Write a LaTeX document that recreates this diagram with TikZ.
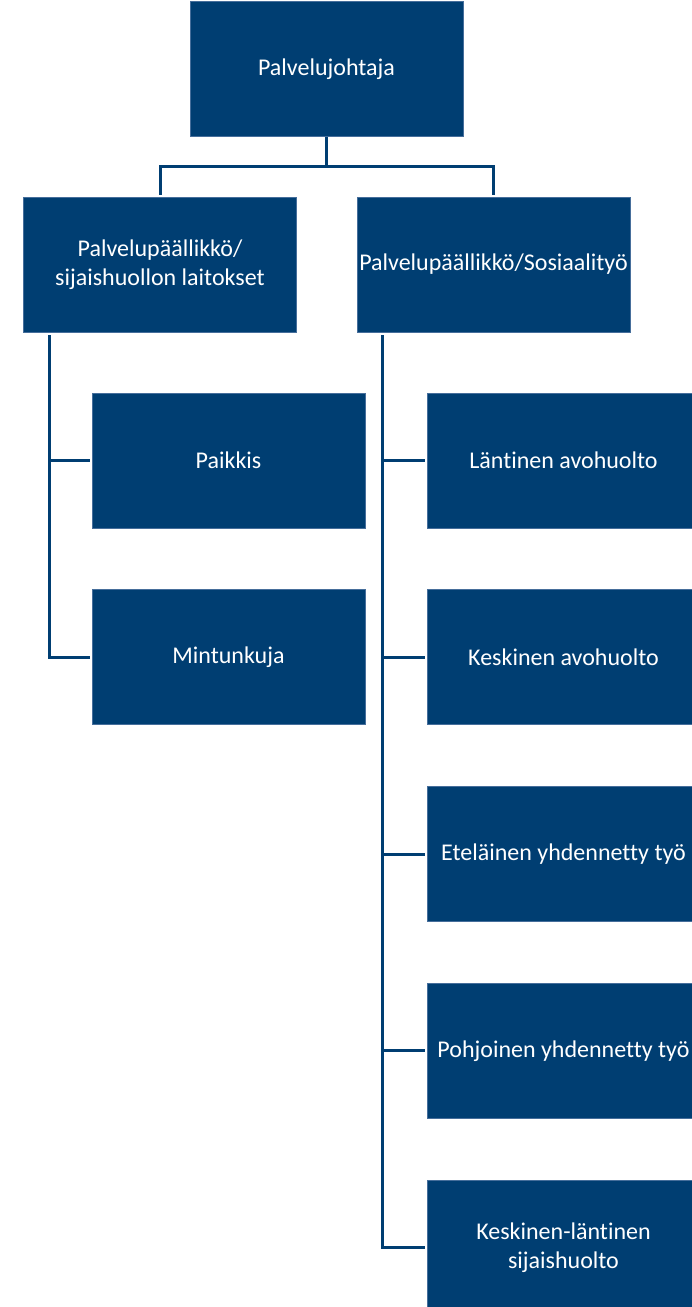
\documentclass[tikz,border=0pt]{standalone}
\usepackage{fontspec}
\setmainfont{Carlito}[Ligatures=NoCommon]
\usetikzlibrary{positioning}

\definecolor{orgblue}{RGB}{0,62,114}
\definecolor{orgedge}{RGB}{70,110,155}

\begin{document}
\begin{tikzpicture}[
        unit/.style={
                rectangle,
                fill=orgblue,
                draw=orgedge,
                line width=0.8pt,
                text=white,
                align=center,
                inner sep=0pt,
                minimum width=273pt,
                minimum height=135pt,
                font=\fontsize{24}{29.5}\selectfont
            },
        link/.style={
                draw=orgblue,
                line width=3pt
            }
    ]
    \clip (0pt,0pt) rectangle (692pt,-1307pt);
    \useasboundingbox (0pt,0pt) rectangle (692pt,-1307pt);

    \node[unit] (lead)  at (326.5pt,-69pt)    {Palvelujohtaja};
    \node[unit] (svcA)  at (160pt,-264.5pt)   {Palvelupäällikkö/\\sijaishuollon laitokset};
    \node[unit] (svcB)  at (493.5pt,-264.5pt) {Palvelupäällikkö/Sosiaalityö};

    \node[unit] (paik)  at (228.5pt,-460.5pt) {Paikkis};
    \node[unit] (mint)  [below=61pt of paik]  {Mintunkuja};

    \node[unit] (lant)  at (563.5pt,-460.5pt) {Läntinen avohuolto};
    \node[unit] (kesk)  [below=61pt of lant]  {Keskinen avohuolto};
    \node[unit] (etel)  [below=61pt of kesk]  {Eteläinen yhdennetty työ};
    \node[unit] (pohj)  [below=61pt of etel]  {Pohjoinen yhdennetty työ};
    \node[unit] (sija)  [below=61pt of pohj]  {Keskinen-läntinen\\sijaishuolto};

    \coordinate[below right=3pt and 26pt of svcA.south west] (spineA);
    \coordinate[below right=3pt and 26pt of svcB.south west] (spineB);

    \draw[link] (lead.south) -- ++(0,-30pt) -| ([yshift=2pt]svcA.north);
    \draw[link] (lead.south) -- ++(0,-30pt) -| ([yshift=2pt]svcB.north);

    \draw[link] (spineA) |- ([xshift=-2pt]paik.west);
    \draw[link] (spineA) |- ([xshift=-2pt]mint.west);

    \draw[link] (spineB) |- ([xshift=-2pt]lant.west);
    \draw[link] (spineB) |- ([xshift=-2pt]kesk.west);
    \draw[link] (spineB) |- ([xshift=-2pt]etel.west);
    \draw[link] (spineB) |- ([xshift=-2pt]pohj.west);
    \draw[link] (spineB) |- ([xshift=-2pt]sija.west);
\end{tikzpicture}
\end{document}
